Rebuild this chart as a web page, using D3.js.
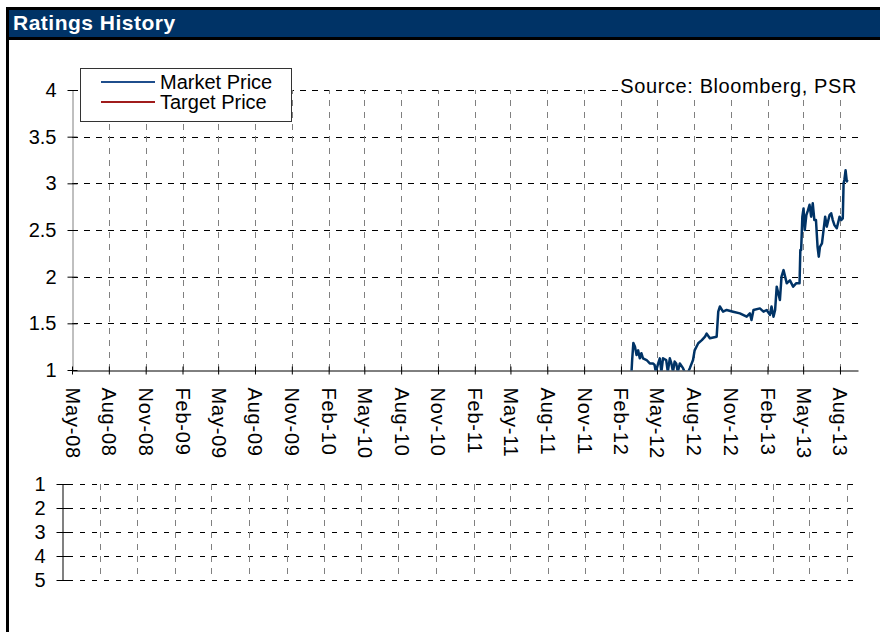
<!DOCTYPE html>
<html>
<head>
<meta charset="utf-8">
<script src="https://d3js.org/d3.v7.min.js"></script>
<style>
  body { margin: 0; background: #fff; }
  text { font-family: "Liberation Sans", Arial, sans-serif; }
</style>
</head>
<body>
<div id="charts"></div>
<script>
// quarterly tick labels for the date axis
let tickLabels = ["May-08", "Aug-08", "Nov-08", "Feb-09", "May-09", "Aug-09", "Nov-09",
  "Feb-10", "May-10", "Aug-10", "Nov-10", "Feb-11", "May-11", "Aug-11", "Nov-11",
  "Feb-12", "May-12", "Aug-12", "Nov-12", "Feb-13", "May-13", "Aug-13"];
let priceTicks = [1, 1.5, 2, 2.5, 3, 3.5, 4];
let ratingTicks = [1, 2, 3, 4, 5];

// market price (values under 1 are clipped by the axis)
let priceDates = ["2012-02-27", "2012-02-29", "2012-03-03", "2012-03-07", "2012-03-11", "2012-03-15",
  "2012-03-19", "2012-03-23", "2012-03-27", "2012-04-05", "2012-04-13", "2012-04-21", "2012-04-25",
  "2012-04-28", "2012-05-04", "2012-05-08", "2012-05-12", "2012-05-16", "2012-05-24", "2012-05-28",
  "2012-06-02", "2012-06-06", "2012-06-10", "2012-06-14", "2012-06-18", "2012-06-22", "2012-06-27",
  "2012-07-05", "2012-07-09", "2012-07-17", "2012-07-22", "2012-07-30", "2012-08-03", "2012-08-12",
  "2012-08-21", "2012-08-29", "2012-09-02", "2012-09-10", "2012-09-27", "2012-10-01", "2012-10-05",
  "2012-10-13", "2012-10-22", "2012-11-07", "2012-11-24", "2012-12-11", "2012-12-19", "2012-12-23",
  "2012-12-28", "2013-01-13", "2013-01-22", "2013-01-30", "2013-02-07", "2013-02-11", "2013-02-16",
  "2013-02-20", "2013-02-24", "2013-02-28", "2013-03-04", "2013-03-08", "2013-03-13", "2013-03-17",
  "2013-03-21", "2013-03-29", "2013-04-06", "2013-04-14", "2013-04-22", "2013-04-24", "2013-04-26",
  "2013-04-29", "2013-05-02", "2013-05-05", "2013-05-09", "2013-05-13", "2013-05-17", "2013-05-21",
  "2013-05-25", "2013-05-29", "2013-06-02", "2013-06-06", "2013-06-09", "2013-06-12", "2013-06-17",
  "2013-06-20", "2013-06-25", "2013-06-29", "2013-07-06", "2013-07-10", "2013-07-14", "2013-07-18",
  "2013-07-24", "2013-07-29", "2013-07-31", "2013-08-04", "2013-08-08", "2013-08-10", "2013-08-12",
  "2013-08-15", "2013-08-18", "2013-08-20"];
let priceValues = [0.95, 1.11, 1.29, 1.25, 1.16, 1.21,
  1.125, 1.18, 1.125, 1.107, 1.07, 1.07, 1.054,
  0.98, 1.07, 1.125, 0.98, 1.125, 1.107, 0.98,
  1.125, 1.07, 0.98, 1.09, 1.07, 0.98, 1.07,
  1.02, 0.98, 0.97, 1.02, 1.107, 1.21, 1.286,
  1.32, 1.357, 1.39, 1.34, 1.357, 1.625, 1.68,
  1.625, 1.643, 1.625, 1.607, 1.571, 1.607, 1.536,
  1.643, 1.66, 1.625, 1.643, 1.59, 1.68, 1.571,
  1.643, 1.893, 1.82, 1.75, 2.0, 2.07, 2.0,
  1.93, 1.96, 1.893, 1.93, 1.93, 2.286, 2.286,
  2.643, 2.73, 2.5, 2.66, 2.71, 2.77, 2.643,
  2.786, 2.607, 2.607, 2.32, 2.214, 2.32, 2.357,
  2.464, 2.643, 2.536, 2.66, 2.68, 2.607, 2.554,
  2.52, 2.607, 2.643, 2.607, 2.625, 3.0, 3.036,
  3.14, 3.02, 3.036];

let parseDate = d3.timeParse("%Y-%m-%d");
let data = priceDates.map(function (d, i) {
  return { date: parseDate(d), price: priceValues[i] };
});
let tickDates = tickLabels.map(function (d) { return d3.timeParse("%b-%y")(d); });

let w = 880;
let h = 632;
let navy = "#003366";
let fontFam = "Liberation Sans, Arial, sans-serif";

let viz = d3.select("#charts")
  .append("svg")
  .attr("width", w)
  .attr("height", h)
  .style("display", "block");

// frame and title bar
viz.append("rect").attr("x", 7.5).attr("y", 8.5).attr("width", w).attr("height", h)
  .attr("fill", "none").attr("stroke", "black").attr("stroke-width", 3);
viz.append("rect").attr("x", 9).attr("y", 10).attr("width", w).attr("height", 28)
  .attr("fill", navy);
viz.append("line").attr("x1", 9).attr("x2", w).attr("y1", 38.5).attr("y2", 38.5)
  .attr("stroke", "black").attr("stroke-width", 3);
viz.append("text")
  .attr("x", 13).attr("y", 30)
  .attr("font-size", 21).attr("font-weight", "bold")
  .attr("letter-spacing", 0.5)
  .attr("fill", "white")
  .text("Ratings History");

// ---------- price chart ----------
let xScale = d3.scaleTime()
  .domain([parseDate("2008-05-01"), parseDate("2013-09-15")])
  .range([72, 858]);
let yScale = d3.scaleLinear()
  .domain([1, 4])
  .range([370, 90]);

let grid = viz.append("g").classed("grid", true);
grid.selectAll(".hgrid")
  .data(priceTicks.slice(1))
  .enter().append("line")
  .attr("x1", 72).attr("x2", 858)
  .attr("y1", function (d) { return Math.round(yScale(d)) + 0.5; })
  .attr("y2", function (d) { return Math.round(yScale(d)) + 0.5; })
  .attr("stroke", "black").attr("stroke-dasharray", "6,6");
grid.selectAll(".vgrid")
  .data(tickDates.slice(1))
  .enter().append("line")
  .attr("x1", function (d) { return Math.round(xScale(d)) + 0.5; })
  .attr("x2", function (d) { return Math.round(xScale(d)) + 0.5; })
  .attr("y1", 370).attr("y2", 90)
  .attr("stroke", "#808080").attr("stroke-dasharray", "6,6");

// y axis
let yAxis = d3.axisLeft(yScale)
  .tickValues(priceTicks)
  .tickSizeOuter(0)
  .tickSizeInner(5)
  .tickPadding(11)
  .tickFormat(d3.format("~g"));
let yAxisGroup = viz.append("g")
  .classed("yAxis", true)
  .attr("transform", "translate(72.5,0)")
  .call(yAxis);
yAxisGroup.select(".domain").attr("stroke", "#808080");
yAxisGroup.selectAll("line").attr("x2", -5).attr("x1", 5).attr("stroke", "black");
yAxisGroup.selectAll("text").attr("font-size", 20).attr("font-family", fontFam).attr("fill", "black");

// x axis
let xAxis = d3.axisBottom(xScale)
  .tickValues(tickDates)
  .tickSizeOuter(0)
  .tickSizeInner(4)
  .tickFormat(function (d, i) { return tickLabels[i]; });
let xAxisGroup = viz.append("g")
  .classed("xAxis", true)
  .attr("transform", "translate(0,370.5)")
  .call(xAxis);
xAxisGroup.select(".domain").attr("stroke", "black");
xAxisGroup.selectAll("line").attr("y1", -4).attr("y2", 4).attr("stroke", "black");
xAxisGroup.selectAll("text")
  .attr("font-size", 20)
  .attr("font-family", fontFam)
  .attr("letter-spacing", 0.8)
  .attr("fill", "black")
  .attr("transform", "rotate(90)")
  .attr("x", 17).attr("y", 0).attr("dy", "0.35em")
  .style("text-anchor", "start");

// price line, clipped to the plot area
viz.append("clipPath").attr("id", "plotClip")
  .append("rect").attr("x", 72).attr("y", 88).attr("width", 786).attr("height", 282.5);
let line = d3.line()
  .x(function (d) { return xScale(d.date); })
  .y(function (d) { return yScale(d.price); });
viz.append("path")
  .datum(data)
  .attr("clip-path", "url(#plotClip)")
  .attr("d", line)
  .attr("fill", "none")
  .attr("stroke", navy)
  .attr("stroke-width", 2.5)
  .attr("stroke-linejoin", "round");

// legend
let legend = viz.append("g").classed("legend", true);
legend.append("rect").attr("x", 80.5).attr("y", 68.5).attr("width", 211).attr("height", 53)
  .attr("fill", "white").attr("stroke", "#333").attr("stroke-width", 1);
let legendItems = [{ name: "Market Price", color: "#1f4e8c" }, { name: "Target Price", color: "#a01c1c" }];
legendItems.forEach(function (d, i) {
  legend.append("line").attr("x1", 101).attr("x2", 155)
    .attr("y1", 82 + i * 20).attr("y2", 82 + i * 20)
    .attr("stroke", d.color).attr("stroke-width", 2);
  legend.append("text").attr("x", 160).attr("y", 88.5 + i * 20)
    .attr("font-size", 20).attr("fill", "black").text(d.name);
});

// source note on a white box so the top gridline stops at it
viz.append("rect").attr("x", 618).attr("y", 76).attr("width", 240).attr("height", 24)
  .attr("fill", "white");
viz.append("text")
  .attr("x", 857).attr("y", 93)
  .attr("text-anchor", "end")
  .attr("font-size", 20)
  .attr("letter-spacing", 0.6)
  .attr("fill", "black")
  .text("Source: Bloomberg, PSR");

// ---------- rating chart ----------
let x2Scale = d3.scaleTime()
  .domain([parseDate("2008-05-01"), parseDate("2013-08-16")])
  .range([62, 853]);
let y2Scale = d3.scaleLinear()
  .domain([1, 5])
  .range([484, 580]);

let grid2 = viz.append("g").classed("grid2", true);
grid2.selectAll("line.h")
  .data(ratingTicks)
  .enter().append("line")
  .attr("x1", 68).attr("x2", 853)
  .attr("y1", function (d) { return Math.round(y2Scale(d)) + 0.5; })
  .attr("y2", function (d) { return Math.round(y2Scale(d)) + 0.5; })
  .attr("stroke", "black").attr("stroke-dasharray", "5,7");
grid2.selectAll("line.v")
  .data(tickDates.slice(1))
  .enter().append("line")
  .attr("x1", function (d) { return Math.round(x2Scale(d)) + 0.5; })
  .attr("x2", function (d) { return Math.round(x2Scale(d)) + 0.5; })
  .attr("y1", 484).attr("y2", 580)
  .attr("stroke", "#808080").attr("stroke-dasharray", "6,6");

let y2Axis = d3.axisLeft(y2Scale)
  .tickValues(ratingTicks)
  .tickSizeOuter(0)
  .tickSizeInner(6)
  .tickPadding(11)
  .tickFormat(d3.format("d"));
let y2AxisGroup = viz.append("g")
  .classed("y2Axis", true)
  .attr("transform", "translate(62.5,0)")
  .call(y2Axis);
y2AxisGroup.select(".domain").attr("stroke", "#808080").attr("stroke-width", 2);
y2AxisGroup.selectAll("line").attr("x1", 6).attr("x2", -6).attr("stroke", "black");
y2AxisGroup.selectAll("text").attr("font-size", 20).attr("font-family", fontFam).attr("fill", "black");
</script>
</body>
</html>
